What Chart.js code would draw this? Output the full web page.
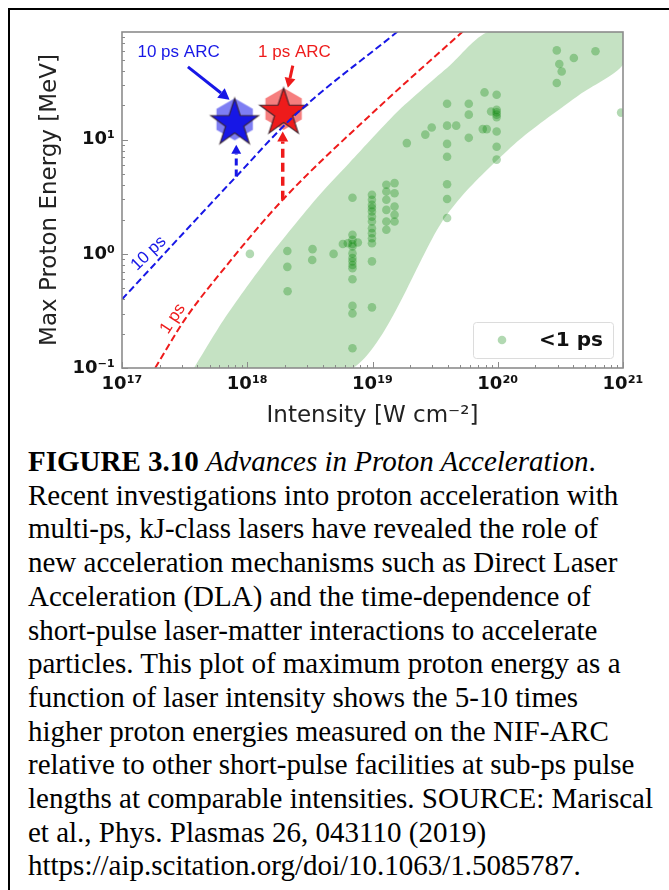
<!DOCTYPE html>
<html>
<head>
<meta charset="utf-8">
<script src="https://cdn.jsdelivr.net/npm/chart.js@4.4.1/dist/chart.umd.min.js"></script>
<style>
  html, body { margin: 0; padding: 0; background: #fff; }
  body { width: 669px; height: 890px; position: relative; overflow: hidden; }
  #frame { position: absolute; left: 8px; top: 8px; right: -4px; bottom: -4px;
           border-top: 2px solid #000; border-left: 2px solid #000; }
  #chart { position: absolute; left: 0; top: 0; }
  #caption { position: absolute; left: 28px; top: 445px; white-space: nowrap;
             font-family: "Liberation Serif", "Times New Roman", serif;
             font-size: 29px; line-height: 33.7px; color: #000; }
</style>
</head>
<body>
<div id="frame"></div>
<canvas id="chart" width="669" height="435"></canvas>
<div id="caption"><b>FIGURE 3.10</b> <i>Advances in Proton Acceleration</i>.<br>Recent investigations into proton acceleration with<br>multi-ps, kJ-class lasers have revealed the role of<br>new acceleration mechanisms such as Direct Laser<br>Acceleration (DLA) and the time-dependence of<br>short-pulse laser-matter interactions to accelerate<br>particles. This plot of maximum proton energy as a<br>function of laser intensity shows the 5-10 times<br>higher proton energies measured on the NIF-ARC<br>relative to other short-pulse facilities at sub-ps pulse<br>lengths at comparable intensities. SOURCE: Mariscal<br>et al., Phys. Plasmas 26, 043110 (2019)<br>https://aip.scitation.org/doi/10.1063/1.5085787.</div>

<script>
// ---- Axis ticks -------------------------------------------------------
const xMajorTicks = [1e17, 1e18, 1e19, 1e20, 1e21];
const xTickLabels = ['10¹⁷', '10¹⁸', '10¹⁹', '10²⁰', '10²¹'];
const yMajorTicks = [0.1, 1, 10];
const yTickLabels = ['10⁻¹', '10⁰', '10¹'];

// ---- Sub-ps shots: intensity [W/cm²] and max proton energy [MeV] -------
const subPsIntensity = [
  1.05e18, 2.09e18, 2.09e18, 2.1e18, 3.32e18, 3.3e18, 4.89e18, 5.8e18, 6.35e18, 7.64e18,
  6.92e18, 6.92e18, 6.92e18, 6.92e18, 6.92e18, 6.92e18, 6.92e18, 6.92e18, 6.92e18, 6.92e18,
  6.92e18, 6.92e18, 6.92e18, 6.92e18,
  9.9e18, 9.9e18, 9.9e18, 9.9e18, 9.9e18, 9.9e18, 9.9e18, 9.9e18, 9.9e18, 9.9e18,
  9.9e18, 9.9e18, 9.9e18,
  1.29e19, 1.29e19, 1.29e19, 1.29e19, 1.29e19, 1.29e19,
  1.5e19, 1.5e19, 1.5e19, 1.5e19, 1.5e19,
  1.88e19, 2.64e19, 2.97e19,
  3.94e19, 3.94e19, 3.94e19, 3.94e19, 3.94e19, 3.94e19, 3.94e19,
  4.66e19, 5.87e19, 5.87e19, 5.87e19, 7.59e19, 8.17e19, 7.84e19, 8.85e19,
  9.8e19, 9.8e19, 9.8e19, 9.8e19, 9.8e19, 9.8e19, 9.8e19, 9.8e19,
  2.96e20, 3.1e20, 3.24e20, 2.96e20, 4.05e20, 6.03e20, 9.66e20
];
const subPsEnergy = [
  1.0, 1.06, 0.77, 0.47, 1.10, 0.885, 1.0, 1.22, 1.24, 1.26,
  3.1, 1.47, 1.33, 1.22, 1.16, 1.01, 0.92, 0.86, 0.80, 0.75,
  0.60, 0.35, 0.30, 0.149,
  3.30, 2.98, 2.69, 2.52, 2.35, 2.12, 1.92, 1.68, 1.52, 1.37,
  1.24, 0.86, 0.34,
  4.03, 3.52, 2.98, 2.43, 1.92, 1.63,
  4.17, 3.40, 2.60, 2.20, 1.92,
  9.35, 11.1, 12.8,
  20.7, 13.3, 9.2, 7.1, 4.08, 3.03, 2.06,
  13.3, 20.7, 16.6, 10.4, 12.4, 12.4, 26.0, 17.7,
  24.8, 18.3, 17.4, 16.6, 15.8, 11.8, 8.7, 6.7,
  60.7, 46.1, 39.7, 31.4, 52.1, 59.6, 17.3
];

// ---- NIF-ARC shots ----------------------------------------------------
const arc10psIntensity = [7.93e17];
const arc10psEnergy = [14.5];
const arc1psIntensity = [1.95e18];
const arc1psEnergy = [17.9];

// ---- Scaling curves for 10 ps and 1 ps pulses --------------------------
const curve10psIntensity = [1e17, 8.17e17, 2.31e18, 1.59e19];
const curve10psEnergy = [0.40, 4.77, 15.8, 89];
const curve1psIntensity = [1.84e17, 3.16e17, 7.22e17, 1.92e18, 1.14e19, 5.26e19];
const curve1psEnergy = [0.1, 0.264, 0.851, 2.98, 19.6, 89];

// ---- Envelope of sub-ps results ---------------------------------------
const bandUpperIntensity = [3.76e17, 6.6e17, 1.37e18, 3.44e18, 6.55e18, 1.64e19, 4.12e19, 8.6e19, 1e21];
const bandUpperEnergy = [0.1, 0.273, 0.834, 2.92, 6.28, 18.3, 44.6, 88.5, 88.5];
const bandLowerIntensity = [6.97e18, 3.53e19, 5.73e19, 1.49e20, 4.49e20, 1e21];
const bandLowerEnergy = [0.1, 1.86, 3.64, 10, 24.8, 45.5];

const seriesLabel = '<1 ps';

// ---------------------------------------------------------------------
const BLUE = '#1717e6';
const RED = '#ee1b1b';
const DOT = 'rgba(0,128,0,0.30)';

const zip = (xs, ys) => xs.map((x, i) => ({ x, y: ys[i] }));

// closed outline of the envelope: up the left edge, down the right edge
const bandOutline = zip(bandUpperIntensity, bandUpperEnergy)
  .concat(zip(bandLowerIntensity, bandLowerEnergy).reverse())
  .concat([{ x: bandUpperIntensity[0], y: bandUpperEnergy[0] }]);

function arcMarker(color, haze) {
  const c = document.createElement('canvas');
  c.width = 64; c.height = 64;
  const g = c.getContext('2d');
  const cx = 32, cy = 32;
  g.beginPath();
  for (let i = 0; i < 6; i++) {
    const a = -Math.PI / 2 + i * Math.PI / 3;
    const x = cx + 21 * Math.cos(a), y = cy - 2 + 21 * Math.sin(a);
    if (i) g.lineTo(x, y); else g.moveTo(x, y);
  }
  g.closePath();
  g.fillStyle = haze;
  g.fill();
  g.beginPath();
  for (let i = 0; i < 10; i++) {
    const r = i % 2 ? 25 * 0.382 : 25;
    const a = -Math.PI / 2 + i * Math.PI / 5;
    const x = cx + r * Math.cos(a), y = cy + 2 + r * Math.sin(a);
    if (i) g.lineTo(x, y); else g.moveTo(x, y);
  }
  g.closePath();
  g.fillStyle = color;
  g.fill();
  g.strokeStyle = 'rgba(50,30,40,0.85)';
  g.lineWidth = 1.2;
  g.stroke();
  return c;
}

function logTicks(lo, hi) {
  const out = [];
  for (let e = Math.floor(Math.log10(lo)); e <= Math.ceil(Math.log10(hi)); e++) {
    for (let k = 1; k <= 9; k++) {
      const v = k * Math.pow(10, e);
      if (v >= lo * 0.999 && v <= hi * 1.001) out.push({ value: v });
    }
  }
  return out;
}
function isMajor(v, majors) {
  return majors.findIndex(m => Math.abs(v / m - 1) < 1e-6);
}

// annotations placed in data coordinates
const notes = {
  labels: [
    { text: '10 ps ARC', x: 2.83e17, y: 59, color: BLUE, rot: 0 },
    { text: '1 ps ARC', x: 2.38e18, y: 59, color: RED, rot: 0 },
    { text: '10 ps', x: 1.63e17, y: 1.01, color: BLUE, rot: -44 },
    { text: '1 ps', x: 2.55e17, y: 0.27, color: RED, rot: -57 }
  ],
  arrows: [
    { from: [3.36e17, 43.5], to: [7.23e17, 22.4], color: BLUE, width: 3, dash: [], head: 11 },
    { from: [2.31e18, 44.6], to: [2.11e18, 28.5], color: RED, width: 3, dash: [], head: 10 },
    { from: [8.17e17, 4.77], to: [8.17e17, 9.04], color: BLUE, width: 3, dash: [7, 4], head: 9 },
    { from: [1.92e18, 2.98], to: [1.92e18, 11.8], color: RED, width: 3.5, dash: [9, 5], head: 10 }
  ]
};

function drawArrow(ctx, x0, y0, x1, y1, o) {
  const ang = Math.atan2(y1 - y0, x1 - x0);
  const bx = x1 - o.head * Math.cos(ang), by = y1 - o.head * Math.sin(ang);
  ctx.save();
  ctx.strokeStyle = o.color; ctx.fillStyle = o.color;
  ctx.lineWidth = o.width; ctx.setLineDash(o.dash);
  ctx.beginPath(); ctx.moveTo(x0, y0); ctx.lineTo(bx, by); ctx.stroke();
  ctx.setLineDash([]);
  const hw = o.head * 0.55;
  ctx.beginPath();
  ctx.moveTo(x1, y1);
  ctx.lineTo(bx + hw * Math.sin(ang), by - hw * Math.cos(ang));
  ctx.lineTo(bx - hw * Math.sin(ang), by + hw * Math.cos(ang));
  ctx.closePath(); ctx.fill();
  ctx.restore();
}

const annotationPlugin = {
  id: 'annotations',
  afterDatasetsDraw(chart) {
    const { ctx, scales: { x, y } } = chart;
    notes.arrows.forEach(a => {
      drawArrow(ctx, x.getPixelForValue(a.from[0]), y.getPixelForValue(a.from[1]),
        x.getPixelForValue(a.to[0]), y.getPixelForValue(a.to[1]), a);
    });
    notes.labels.forEach(l => {
      ctx.save();
      ctx.translate(x.getPixelForValue(l.x), y.getPixelForValue(l.y));
      ctx.rotate(l.rot * Math.PI / 180);
      ctx.font = '17px "Liberation Sans", Arial, sans-serif';
      ctx.fillStyle = l.color;
      ctx.textAlign = 'center';
      ctx.textBaseline = 'middle';
      ctx.fillText(l.text, 0, 0);
      ctx.restore();
    });
  }
};

const framePlugin = {
  id: 'frame',
  afterDraw(chart) {
    const { ctx, chartArea: a, scales: { x, y } } = chart;
    ctx.save();
    // inward tick marks
    ctx.strokeStyle = '#8a8a8a';
    ctx.lineWidth = 1;
    x.ticks.forEach(t => {
      const px = Math.round(x.getPixelForValue(t.value)) + 0.5;
      const len = isMajor(t.value, xMajorTicks) >= 0 ? 6 : 3;
      ctx.beginPath(); ctx.moveTo(px, a.bottom); ctx.lineTo(px, a.bottom - len); ctx.stroke();
    });
    y.ticks.forEach(t => {
      const py = Math.round(y.getPixelForValue(t.value)) + 0.5;
      const len = isMajor(t.value, yMajorTicks) >= 0 ? 6 : 3;
      ctx.beginPath(); ctx.moveTo(a.left, py); ctx.lineTo(a.left + len, py); ctx.stroke();
    });
    // axes box
    ctx.strokeStyle = '#8c8c8c';
    ctx.lineWidth = 1.6;
    ctx.strokeRect(a.left, a.top, a.right - a.left, a.bottom - a.top);

    // legend box
    const ds = chart.data.datasets.find(d => d.label === seriesLabel);
    const bw = 140, bh = 36;
    const bx = a.right - 10 - bw, by = a.bottom - 10 - bh;
    ctx.fillStyle = 'rgba(255,255,255,0.85)';
    ctx.strokeStyle = '#dcdcdc';
    ctx.lineWidth = 1;
    ctx.beginPath();
    ctx.roundRect(bx + 0.5, by + 0.5, bw, bh, 3);
    ctx.fill(); ctx.stroke();
    ctx.fillStyle = ds.pointBackgroundColor;
    ctx.beginPath(); ctx.arc(bx + 29, by + bh / 2, 4.3, 0, Math.PI * 2); ctx.fill();
    ctx.fillStyle = '#111';
    ctx.font = 'bold 20px "DejaVu Sans", sans-serif';
    ctx.textBaseline = 'middle';
    ctx.textAlign = 'left';
    ctx.fillText(ds.label, bx + 66, by + bh / 2 + 1);
    ctx.restore();
  }
};

const tickFont = { family: 'DejaVu Sans', size: 18, weight: 'bold' };
const titleFont = { family: 'DejaVu Sans', size: 23 };

new Chart(document.getElementById('chart'), {
  type: 'scatter',
  data: {
    datasets: [
      {
        label: '10 ps',
        data: zip(curve10psIntensity, curve10psEnergy),
        showLine: true, borderColor: BLUE, borderWidth: 2, borderDash: [7, 3.5],
        cubicInterpolationMode: 'monotone', pointRadius: 0, fill: false, order: 1
      },
      {
        label: '1 ps',
        data: zip(curve1psIntensity, curve1psEnergy),
        showLine: true, borderColor: RED, borderWidth: 2, borderDash: [7, 3.5],
        cubicInterpolationMode: 'monotone', pointRadius: 0, fill: false, order: 2
      },
      {
        label: '10 ps ARC',
        data: zip(arc10psIntensity, arc10psEnergy),
        pointStyle: arcMarker(BLUE, 'rgba(40,40,235,0.6)'), pointRadius: 26, order: 3
      },
      {
        label: '1 ps ARC',
        data: zip(arc1psIntensity, arc1psEnergy),
        pointStyle: arcMarker(RED, 'rgba(240,40,40,0.6)'), pointRadius: 26, order: 4
      },
      {
        label: seriesLabel,
        data: zip(subPsIntensity, subPsEnergy),
        pointRadius: 4.3, pointBorderWidth: 0,
        pointBackgroundColor: DOT, backgroundColor: DOT, borderColor: 'rgba(0,0,0,0)', order: 5
      },
      {
        label: 'envelope',
        data: bandOutline,
        showLine: true, borderWidth: 0, borderColor: 'rgba(0,0,0,0)', pointRadius: 0,
        fill: 'shape', backgroundColor: 'rgba(25,140,15,0.25)', tension: 0.25, order: 9
      }
    ]
  },
  options: {
    responsive: false,
    animation: false,
    events: [],
    layout: { padding: { left: 32, right: 46, top: 32, bottom: 0 } },
    plugins: { legend: { display: false }, tooltip: { enabled: false } },
    scales: {
      x: {
        type: 'logarithmic', min: 1e17, max: 1e21,
        afterFit: s => { s.height = 67; },
        afterBuildTicks: s => { s.ticks = logTicks(1e17, 1e21); },
        grid: { display: false, drawTicks: false },
        border: { display: false },
        ticks: {
          autoSkip: false, maxRotation: 0, padding: 6, color: '#111', font: tickFont,
          callback: v => { const i = isMajor(v, xMajorTicks); return i >= 0 ? xTickLabels[i] : ''; }
        },
        title: { display: true, text: 'Intensity [W cm⁻²]', color: '#222', font: titleFont,
                 padding: { top: 0, bottom: 5 } }
      },
      y: {
        type: 'logarithmic', min: 0.1, max: 88,
        afterFit: s => { s.width = 90; },
        afterBuildTicks: s => { s.ticks = logTicks(0.1, 88); },
        grid: { display: false, drawTicks: false },
        border: { display: false },
        ticks: {
          autoSkip: false, padding: 7, color: '#111', font: tickFont,
          callback: v => { const i = isMajor(v, yMajorTicks); return i >= 0 ? yTickLabels[i] : ''; }
        },
        title: { display: true, text: 'Max Proton Energy [MeV]', color: '#222', font: titleFont,
                 padding: { top: 4, bottom: 0 } }
      }
    }
  },
  plugins: [annotationPlugin, framePlugin]
});
</script>
</body>
</html>
